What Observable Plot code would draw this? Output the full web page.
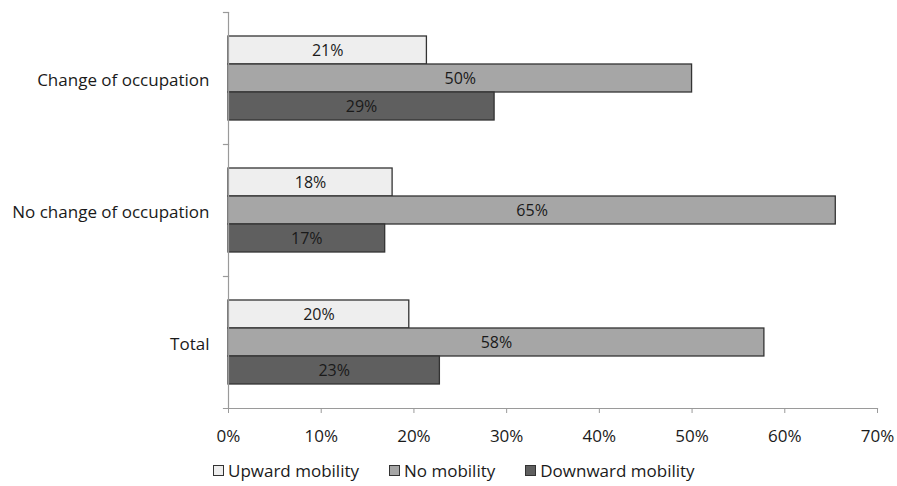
<!DOCTYPE html>
<html>
<head>
<meta charset="utf-8">
<script src="https://cdn.jsdelivr.net/npm/d3@7"></script>
<script src="https://cdn.jsdelivr.net/npm/@observablehq/plot@0.6"></script>
<style>
  body { margin: 0; background: #fff; font-family: "Open Sans", Lato, sans-serif; }
  #legend { display: flex; padding-left: 213px; margin-top: 7px; font-size: 17px; color: #1a1a1a; align-items: center; }
  #legend .item { display: flex; align-items: center; margin-right: 30px; }
  #legend .sw { width: 9px; height: 9px; border: 1px solid #333; margin-right: 4px; }
</style>
</head>
<body>
<div id="chart"></div>
<div id="legend"></div>
<script>
const categories = ["Change of occupation", "No change of occupation", "Total"];
const series = ["Upward mobility", "No mobility", "Downward mobility"];
const upward = [21.4, 17.7, 19.5];
const noMobility = [50.0, 65.5, 57.8];
const downward = [28.7, 16.9, 22.8];
const labelUp = ["21%", "18%", "20%"];
const labelNo = ["50%", "65%", "58%"];
const labelDown = ["29%", "17%", "23%"];
const xTicks = [0, 10, 20, 30, 40, 50, 60, 70];
const colors = ["#eeeeee", "#a6a6a6", "#5f5f5f"];

const data = [];
categories.forEach((c, i) => {
  data.push({category: c, series: series[0], value: upward[i], label: labelUp[i]});
  data.push({category: c, series: series[1], value: noMobility[i], label: labelNo[i]});
  data.push({category: c, series: series[2], value: downward[i], label: labelDown[i]});
});

const W = 897, H = 452, mL = 228, mR = 20, mT = 11, mB = 43;
const plotW = W - mL - mR;

const chart = Plot.plot({
  width: W, height: H,
  marginLeft: mL, marginRight: mR, marginTop: mT, marginBottom: mB,
  style: {fontFamily: "'Open Sans', Lato, sans-serif", fontSize: "17px", color: "#1a1a1a", background: "#fff"},
  x: {domain: [0, 70], label: null},
  y: {domain: series, axis: null, paddingInner: 0, paddingOuter: 0.79},
  fy: {domain: categories, padding: 0, label: null, axis: null},
  color: {domain: series, range: colors},
  marks: [
    Plot.axisFy({anchor: "left", tickSize: 0, tickPadding: 19, label: null, fontSize: 17, fill: "#1a1a1a", dy: 2}),
    Plot.barX(data, {fy: "category", y: "series", x: "value", fill: "series", stroke: "#333", strokeWidth: 1.3}),
    Plot.text(data, {fy: "category", y: "series", x: d => d.value / 2, text: "label", fill: "#1a1a1a", fontSize: 16}),
    Plot.ruleX([0], {stroke: "#9a9a9a", strokeWidth: 1.2}),
    Plot.frame({anchor: "top", insetLeft: -5, insetRight: plotW, stroke: "#9a9a9a", strokeWidth: 1.2}),
    Plot.frame({anchor: "bottom", facetAnchor: "bottom", insetLeft: -5, stroke: "#9a9a9a", strokeWidth: 1.2}),
    Plot.axisX({anchor: "bottom", ticks: xTicks, tickFormat: d => d + "%", tickSize: 5, tickPadding: 16, stroke: "#9a9a9a", fill: "#1a1a1a", fontSize: 17, label: null})
  ]
});
document.getElementById("chart").appendChild(chart);

const legend = document.getElementById("legend");
series.forEach((s, i) => {
  const item = document.createElement("div");
  item.className = "item";
  const sw = document.createElement("span");
  sw.className = "sw";
  sw.style.background = colors[i];
  const t = document.createElement("span");
  t.textContent = s;
  item.appendChild(sw);
  item.appendChild(t);
  legend.appendChild(item);
});
</script>
</body>
</html>
